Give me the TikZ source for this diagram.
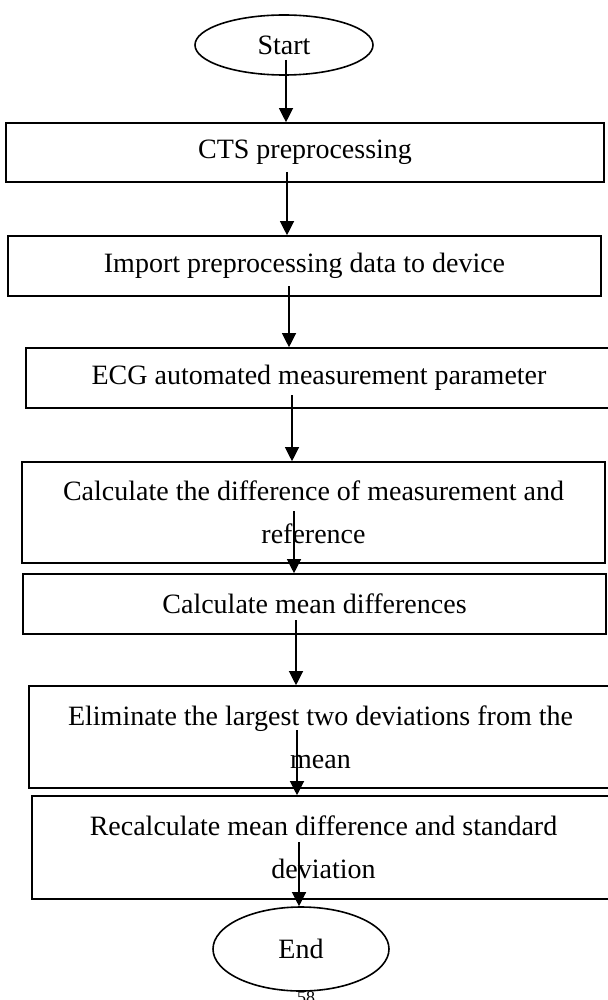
\documentclass[tikz,border=0pt]{standalone}
\usepackage{fontspec}
\setmainfont{Liberation Serif}
\usetikzlibrary{shapes.geometric, arrows.meta, positioning}

\begin{document}
\begin{tikzpicture}[
    x=0.5pt, y=-0.5pt,
    every node/.style={font=\fontsize{14}{21.5}\selectfont},
    stepbox/.style={draw, line width=0.8pt, inner sep=0pt, align=center},
    terminal/.style={draw, ellipse, line width=0.8pt, inner sep=0pt},
    flow/.style={-{Triangle[length=7pt, width=7pt]}, line width=0.6pt}
]
    \useasboundingbox (0,0) rectangle (608,1000);
    \clip (0,0) rectangle (608,1000);

    % Terminals
    \node[terminal, minimum width=89pt, minimum height=30pt] (start) at (284,45) {Start};
    \node[terminal, minimum width=88pt, minimum height=42pt] (end) at (301,949) {End};

    % Process steps
    \node[stepbox, minimum width=299pt, minimum height=29.5pt] (cts) at (305,152.5) {CTS preprocessing};
    \node[stepbox, minimum width=296.5pt, minimum height=30pt] (import) at (304.5,266) {Import preprocessing data to device};
    \node[stepbox, minimum width=293pt, minimum height=30pt] (ecg) at (319,378) {ECG automated measurement parameter};
    \node[stepbox, minimum width=291.5pt, minimum height=50.5pt] (diff) at (313.5,512.5) {Calculate the difference of measurement and\\reference};
    \node[stepbox, minimum width=291.5pt, minimum height=30pt] (meandiff) at (314.5,604) {Calculate mean differences};
    \node[stepbox, minimum width=291.5pt, minimum height=51pt] (elim) at (320.5,737) {Eliminate the largest two deviations from the\\mean};
    \node[stepbox, minimum width=291.5pt, minimum height=51.5pt] (recalc) at (323.5,847.5) {Recalculate mean difference and standard\\deviation};

    % Page number (cut off)
    \node[font=\fontsize{9}{10}\selectfont, inner sep=0pt] (pagenum) at (306,998) {58};

    % Arrows
    \coordinate (a1) at (286,60);
    \coordinate (a2) at (287,172);
    \coordinate (a3) at (289,286);
    \coordinate (a4) at (292,395);
    \coordinate (a5) at (294,511);
    \coordinate (a6) at (296,620);
    \coordinate (a7) at (297,730);
    \coordinate (a8) at (299,842);
    \draw[flow] (a1) -- (a1 |- cts.north);
    \draw[flow] (a2) -- (a2 |- import.north);
    \draw[flow] (a3) -- (a3 |- ecg.north);
    \draw[flow] (a4) -- (a4 |- diff.north);
    \draw[flow] (a5) -- (a5 |- meandiff.north);
    \draw[flow] (a6) -- (a6 |- elim.north);
    \draw[flow] (a7) -- (a7 |- recalc.north);
    \draw[flow] (a8) -- (a8 |- end.north);
\end{tikzpicture}
\end{document}
